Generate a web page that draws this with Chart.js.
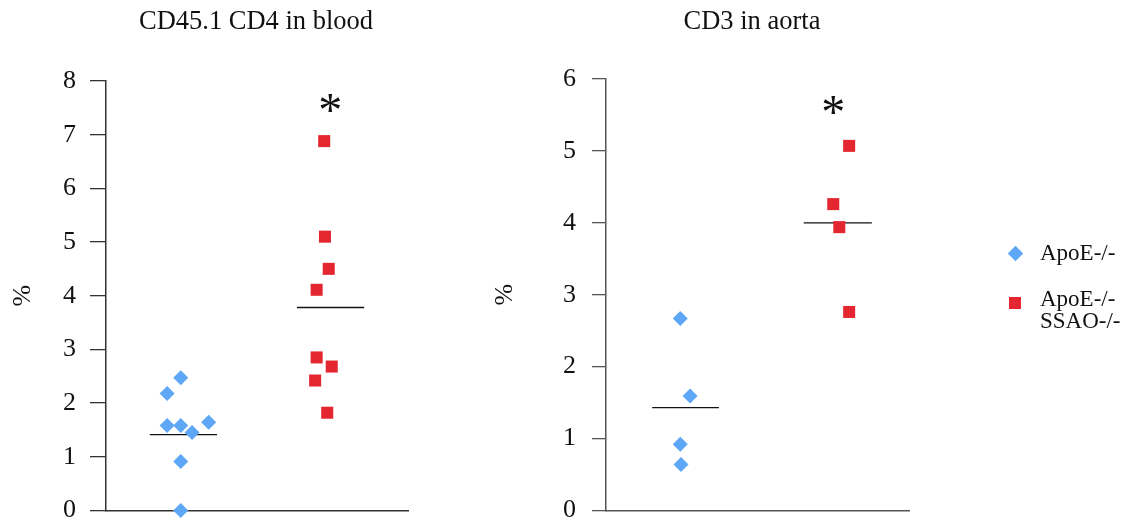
<!DOCTYPE html>
<html>
<head>
<meta charset="utf-8">
<script src="https://cdn.jsdelivr.net/npm/chart.js@4"></script>
<style>
	body { margin: 0; background: #fff; width: 1127px; height: 520px; position: relative; overflow: hidden; font-family: "Liberation Serif", serif; }
	.box { position: absolute; top: 0; }
	#blood-box { left: 0; width: 512px; height: 540px; }
	#aorta-box { left: 480px; width: 544px; height: 542px; }
	.legend { position: absolute; left: 1006px; top: 242px; color: #111; font-size: 23px; line-height: 22px; }
	.legend .row { position: relative; padding-left: 34px; }
	.legend .mark { position: absolute; }
	.diamond { left: 4px; top: 5.5px; width: 11px; height: 11px; background: #5ea7f7; transform: rotate(45deg); }
	.square { left: 3px; top: 9px; width: 12px; height: 12px; background: #e3262f; }
</style>
</head>
<body>
<div class="box" id="blood-box"><canvas id="blood-chart"></canvas></div>
<div class="box" id="aorta-box"><canvas id="aorta-chart"></canvas></div>
<div class="legend">
	<div class="row"><span class="mark diamond"></span>ApoE-/-</div>
	<div class="row" style="margin-top:24px"><span class="mark square"></span>ApoE-/-<br>SSAO-/-</div>
</div>
<script>
const groups = ["ApoE-/-", "ApoE-/- SSAO-/-"];

// CD45.1 CD4 in blood
const bloodApoE = [2.18, 2.47, 1.58, 1.58, 1.45, 1.64, 0.91, 0.0];
const bloodApoEPos = [0.81, 0.99, 0.81, 0.99, 1.14, 1.36, 0.99, 0.99];
const bloodKo = [6.88, 5.10, 4.50, 4.11, 2.85, 2.68, 2.42, 1.82];
const bloodKoPos = [2.89, 2.90, 2.95, 2.79, 2.79, 2.99, 2.77, 2.93];
const bloodMeans = [1.41, 3.78];
const bloodMeanSpan = [[0.58, 1.47], [2.53, 3.42]];
const bloodTicks = [0, 1, 2, 3, 4, 5, 6, 7, 8];
const bloodStar = { x: 2.97, y: 7.39 };

// CD3 in aorta
const aortaApoE = [2.67, 1.59, 0.92, 0.64];
const aortaApoEPos = [0.98, 1.11, 0.98, 0.99];
const aortaKo = [5.07, 4.26, 3.94, 2.76];
const aortaKoPos = [3.21, 3.00, 3.08, 3.21];
const aortaMeans = [1.43, 4.0];
const aortaMeanSpan = [[0.61, 1.49], [2.61, 3.51]];
const aortaTicks = [0, 1, 2, 3, 4, 5, 6];
const aortaStar = { x: 3.0, y: 5.5 };

const serif = "'Liberation Serif', 'Times New Roman', serif";

const starPlugin = {
	id: "star",
	afterDatasetsDraw(chart, args, opts) {
		const { ctx, scales } = chart;
		ctx.save();
		ctx.font = "48px " + serif;
		ctx.fillStyle = "#111";
		ctx.textAlign = "center";
		ctx.textBaseline = "middle";
		ctx.fillText("*", scales.x.getPixelForValue(opts.x), scales.y.getPixelForValue(opts.y));
		ctx.restore();
	},
};

const toPoints = (pos, vals) => vals.map((v, i) => ({ x: pos[i], y: v }));

const drawPanel = (canvasId, cfg) => {
	const data = {
		datasets: [
			{
				label: groups[0],
				data: toPoints(cfg.apoePos, cfg.apoe),
				pointStyle: "rectRot",
				pointRadius: 7.5,
				backgroundColor: "#5ea7f7",
				borderWidth: 0,
				showLine: false,
				clip: false,
			},
			{
				label: groups[1],
				data: toPoints(cfg.koPos, cfg.ko),
				pointStyle: "rect",
				pointRadius: 8.5,
				backgroundColor: "#e3262f",
				borderWidth: 0,
				showLine: false,
				clip: false,
			},
			...cfg.means.map((m, i) => ({
				type: "line",
				label: "mean " + groups[i],
				data: cfg.meanSpan[i].map((x) => ({ x, y: m })),
				borderColor: "#111",
				borderWidth: 1.3,
				pointRadius: 0,
				fill: false,
			})),
		],
	};

	return new Chart(document.getElementById(canvasId), {
		type: "scatter",
		data,
		plugins: [starPlugin],
		options: {
			responsive: true,
			maintainAspectRatio: false,
			animation: false,
			events: [],
			layout: { padding: { left: 0, right: 0, top: 0, bottom: cfg.padBottom } },
			scales: {
				x: {
					type: "linear",
					min: 0,
					max: 4,
					ticks: { display: false },
					grid: { drawOnChartArea: false, drawTicks: false },
					border: { display: true, color: cfg.axisColor, width: 1.5 },
					afterFit: (scale) => { scale.height = 0; },
				},
				y: {
					min: 0,
					max: cfg.ticks[cfg.ticks.length - 1],
					afterBuildTicks: (scale) => { scale.ticks = cfg.ticks.map((v) => ({ value: v })); },
					ticks: {
						color: "#111",
						padding: cfg.labelPad,
						font: { family: serif, size: 26 },
					},
					grid: {
						drawOnChartArea: false,
						drawTicks: true,
						tickLength: cfg.tickLen,
						color: cfg.axisColor,
						lineWidth: 1.3,
					},
					border: { display: true, color: cfg.axisColor, width: 1.5 },
					title: {
						display: true,
						text: "%",
						color: "#111",
						font: { family: serif, size: 26 },
						padding: { top: cfg.titlePad, bottom: 0 },
					},
					afterFit: (scale) => { scale.width = cfg.axisWidth; },
				},
				// empty right-hand box so the title centres on the whole canvas
				spacer: {
					type: "linear",
					axis: "y",
					position: "right",
					ticks: { display: false },
					grid: { display: false },
					border: { display: false },
					afterFit: (scale) => { scale.width = cfg.padRight; },
				},
			},
			plugins: {
				legend: { display: false },
				tooltip: { enabled: false },
				title: {
					display: true,
					text: cfg.title,
					color: "#111",
					font: { family: serif, size: 26.5, weight: "normal" },
					padding: { top: 6, bottom: cfg.topGap },
				},
				star: cfg.star,
			},
		},
	});
};

drawPanel("blood-chart", {
	title: "CD45.1 CD4 in blood",
	apoe: bloodApoE, apoePos: bloodApoEPos,
	ko: bloodKo, koPos: bloodKoPos,
	means: bloodMeans, meanSpan: bloodMeanSpan,
	ticks: bloodTicks, star: bloodStar,
	axisColor: "#333", axisWidth: 106, tickLen: 16, labelPad: 14, titlePad: 8,
	padRight: 104, padBottom: 10, topGap: 43.2,
});

drawPanel("aorta-chart", {
	title: "CD3 in aorta",
	apoe: aortaApoE, apoePos: aortaApoEPos,
	ko: aortaKo, koPos: aortaKoPos,
	means: aortaMeans, meanSpan: aortaMeanSpan,
	ticks: aortaTicks, star: aortaStar,
	axisColor: "#555", axisWidth: 126, tickLen: 14, labelPad: 16, titlePad: 9.4,
	padRight: 115, padBottom: 11, topGap: 41.2,
});
</script>
</body>
</html>
